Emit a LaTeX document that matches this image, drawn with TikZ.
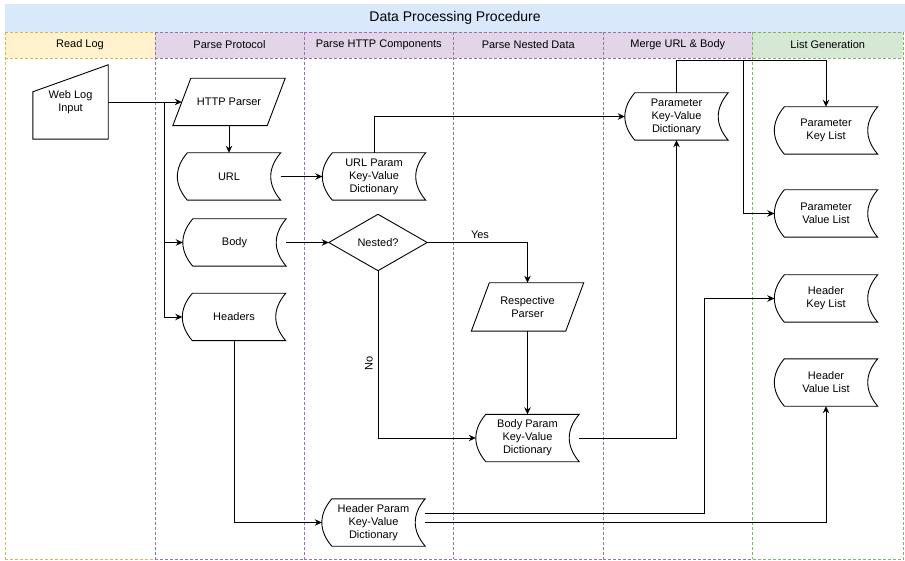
\documentclass[tikz,border=0pt]{standalone}
\usepackage{fontspec}
\setmainfont{Liberation Sans}
\usetikzlibrary{arrows.meta}

\definecolor{titlefill}{HTML}{DAE8FC}
\definecolor{yelfill}{HTML}{FFF2CC}
\definecolor{yelline}{HTML}{D6B656}
\definecolor{purfill}{HTML}{E1D5E7}
\definecolor{purline}{HTML}{9673A6}
\definecolor{grnfill}{HTML}{D5E8D4}
\definecolor{grnline}{HTML}{82B366}

\begin{document}
\begin{tikzpicture}[x=1pt,y=-1pt,
  lanebox/.style={dash pattern=on 3pt off 2pt, line width=0.7pt},
  txt/.style={font=\fontsize{11}{13}\selectfont, align=center, inner sep=0pt},
  shapeline/.style={draw=black, line width=0.9pt},
  stored/.style={txt, minimum width=103pt, minimum height=47pt},
  para/.style={txt, minimum width=112pt, minimum height=47pt},
  conn/.style={draw=black, line width=0.9pt},
  arr/.style={conn, -{Stealth[length=7pt,width=6.5pt]}}
]
\useasboundingbox (0,0) rectangle (905,561);

% title bar
\fill[titlefill] (5,4) rectangle (905,32);
\node[font=\fontsize{14}{16}\selectfont] (title) at (455,18) {Data Processing Procedure};

% swimlane header fills
\fill[yelfill] (5,32) rectangle (155,58);
\fill[purfill] (155,32) rectangle (752.5,58);
\fill[grnfill] (752.5,32) rectangle (903,58);

% swimlane dashed borders: top, header base, bottom, left side of each lane
\foreach \xa/\xb/\c in {5/155/yelline, 155/304/purline, 304/453.5/purline,
                         453.5/603/purline, 603/752.5/purline, 752.5/903/grnline}{
  \draw[lanebox, draw=\c] (\xa,32) -- (\xb,32);
  \draw[lanebox, draw=\c] (\xa,58) -- (\xb,58);
  \draw[lanebox, draw=\c] (\xa,559) -- (\xb,559);
  \draw[lanebox, draw=\c] (\xa,32) -- (\xa,559);
}
\draw[lanebox, draw=grnline] (903,32) -- (903,559);

\node[txt] (h1) at (80,45) {Read Log};
\node[txt] (h2) at (229.5,45) {Parse Protocol};
\node[txt] (h3) at (378.75,45) {Parse HTTP Components};
\node[txt] (h4) at (528.25,45) {Parse Nested Data};
\node[txt] (h5) at (677.75,45) {Merge URL \& Body};
\node[txt] (h6) at (827.75,45) {List Generation};

% nodes
\node[txt, minimum width=75pt, minimum height=74pt] (weblog) at (70.5,102) {Web Log\\Input};
\node[para] (hp) at (229,102) {HTTP Parser};
\node[stored] (url) at (229,176.5) {URL};
\node[stored] (body) at (234.5,242.5) {Body};
\node[stored] (headers) at (234,317) {Headers};
\node[stored] (urlkv) at (374,176.5) {URL Param\\Key-Value\\Dictionary};
\node[txt, minimum width=98pt, minimum height=56pt] (nested) at (378,242.5) {Nested?};
\node[para, minimum height=48pt] (rp) at (527.5,307) {Respective\\Parser};
\node[stored] (bkv) at (527.5,438) {Body Param\\Key-Value\\Dictionary};
\node[stored] (hkv) at (373.5,522.5) {Header Param\\Key-Value\\Dictionary};
\node[stored] (pkv) at (676.5,116.5) {Parameter\\Key-Value\\Dictionary};
\node[stored] (pkl) at (826,130.5) {Parameter\\Key List};
\node[stored] (pvl) at (826,213.5) {Parameter\\Value List};
\node[stored] (hkl) at (826,298.5) {Header\\Key List};
\node[stored] (hvl) at (826,382.5) {Header\\Value List};

% outlines: manual input
\draw[shapeline] (weblog.south west) -- ([yshift=-27pt]weblog.north west)
  -- (weblog.north east) -- (weblog.south east) -- cycle;
% outlines: parallelograms
\foreach \n in {hp,rp}
  \draw[shapeline] ([xshift=18pt]\n.north west) -- (\n.north east)
    -- ([xshift=-18pt]\n.south east) -- (\n.south west) -- cycle;
% outline: decision
\draw[shapeline] (nested.north) -- (nested.east) -- (nested.south) -- (nested.west) -- cycle;
% outlines: stored data
\foreach \n in {url,body,headers,urlkv,bkv,hkv,pkv,pkl,pvl,hkl,hvl}
  \draw[shapeline] ([xshift=10pt]\n.north west) -- (\n.north east)
    .. controls ([xshift=-13.3pt,yshift=-15.7pt]\n.north east)
       and ([xshift=-13.3pt,yshift=15.7pt]\n.south east) .. (\n.south east)
    -- ([xshift=10pt]\n.south west)
    .. controls ([xshift=-3.3pt,yshift=15.7pt]\n.south west)
       and ([xshift=-3.3pt,yshift=-15.7pt]\n.north west) .. cycle;

% connectors
\coordinate (fork) at (164,102);
\coordinate (bus) at (743,61);
\draw[arr] (weblog.east) -- ([xshift=9pt]hp.west);
\draw[arr] (fork) |- (body.west);
\draw[arr] (fork) |- (headers.west);
\draw[arr] (hp.south) -- (url.north);
\draw[arr] (url.east) -- (urlkv.west);
\draw[arr] (urlkv.north) |- (pkv.west);
\draw[arr] (body.east) -- (nested.west);
\draw[arr] (nested.east) -| (rp.north);
\node[txt] (yes) at (480,234.5) {Yes};
\draw[arr] (rp.south) -- (bkv.north);
\draw[arr] (nested.south) |- (bkv.west);
\node[txt, rotate=90] (no) at (369,363) {No};
\draw[arr] (bkv.east) -| (pkv.south);
\draw[arr] (pkv.north) |- ([yshift=46pt]pkl.north) -- (pkl.north);
\draw[arr] (bus) |- (pvl.west);
\draw[arr] (headers.south) |- (hkv.west);
\draw[arr] ([yshift=9.5pt]hkv.east) -| ([xshift=-70pt]hkl.west) -- (hkl.west);
\draw[arr] (hkv.east) -| (hvl.south);
\end{tikzpicture}
\end{document}
